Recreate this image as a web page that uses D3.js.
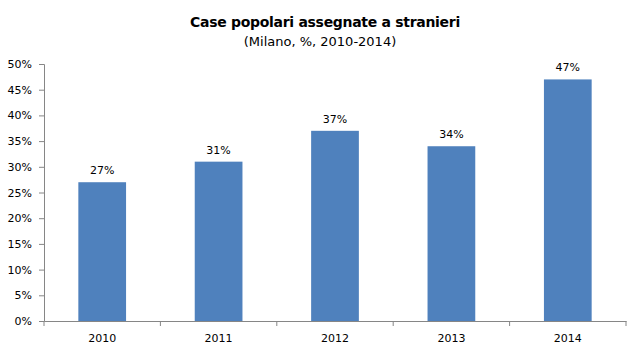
<!DOCTYPE html>
<html>
<head>
<meta charset="utf-8">
<script src="https://cdn.jsdelivr.net/npm/d3@7"></script>
<style>
  body { margin: 0; background: #fff; }
  text { font-family: "DejaVu Sans", Verdana, sans-serif; fill: #000; }
</style>
</head>
<body>
<div id="chart"></div>
<script>
years = ["2010", "2011", "2012", "2013", "2014"];
shares = [27, 31, 37, 34, 47];
yTicks = [0, 5, 10, 15, 20, 25, 30, 35, 40, 45, 50];

width = 640
height = 354
margin = {top: 64, right: 14, bottom: 33, left: 44}

svg = d3.select("#chart").append("svg")
    .attr("width", width)
    .attr("height", height)

// title
svg.append("text")
    .attr("x", 325)
    .attr("y", 27)
    .attr("text-anchor", "middle")
    .style("font-size", "14px")
    .style("font-weight", "bold")
    .style("letter-spacing", "-0.3px")
    .text("Case popolari assegnate a stranieri")
svg.append("text")
    .attr("x", 320)
    .attr("y", 46)
    .attr("text-anchor", "middle")
    .style("font-size", "13px")
    .text("(Milano, %, 2010-2014)")

x = d3.scaleBand()
    .domain(years)
    .range([margin.left, width - margin.right])
    .padding(0)
y = d3.scaleLinear()
    .domain([0, 50])
    .range([height - margin.bottom, margin.top])

barWidth = x.bandwidth() * 0.41

// y axis
yAxis = svg.append("g")
    .attr("transform", "translate(" + margin.left + ",0)")
    .call(d3.axisLeft(y).tickValues(yTicks).tickSize(5).tickPadding(7)
        .tickFormat((d) => d + "%"))
yAxis.select(".domain").attr("stroke", "#868686")
yAxis.selectAll(".tick line").attr("stroke", "#868686")
yAxis.selectAll("text").style("font-size", "11px").style("fill", "#000")

// bars
svg.selectAll("rect.bar")
    .data(shares).enter()
    .append("rect")
    .attr("class", "bar")
    .attr("x", (d, i) => x(years[i]) + (x.bandwidth() - barWidth) / 2)
    .attr("y", (d) => y(d))
    .attr("width", barWidth)
    .attr("height", (d) => y(0) - y(d))
    .attr("fill", "#4F81BD")

// value labels
svg.selectAll("text.value")
    .data(shares).enter()
    .append("text")
    .attr("class", "value")
    .attr("x", (d, i) => x(years[i]) + x.bandwidth() / 2)
    .attr("y", (d) => y(d) - 8)
    .attr("text-anchor", "middle")
    .style("font-size", "11px")
    .text((d) => d + "%")

// x axis
xAxis = svg.append("g")
    .attr("transform", "translate(0," + y(0) + ")")
    .call(d3.axisBottom(x).tickSize(0).tickPadding(13))
xAxis.select(".domain").attr("stroke", "#868686")
xAxis.selectAll("text").style("font-size", "11px").style("fill", "#000")
// category boundary ticks
svg.selectAll("line.sep")
    .data(years.concat(["end"])).enter()
    .append("line")
    .attr("class", "sep")
    .attr("x1", (d, i) => i < years.length ? x(d) : x.range()[1])
    .attr("x2", (d, i) => i < years.length ? x(d) : x.range()[1])
    .attr("y1", y(0))
    .attr("y2", y(0) + 5)
    .attr("stroke", "#868686")
</script>
</body>
</html>
